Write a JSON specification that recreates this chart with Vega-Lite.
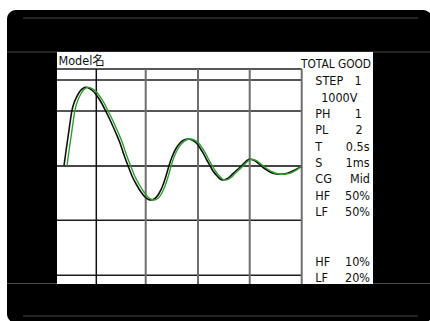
{
  "$schema": "https://vega.github.io/schema/vega-lite/v6.json",
  "width": 316,
  "height": 232,
  "autosize": {"type": "none"},
  "padding": {"left": 57, "top": 52, "right": 57, "bottom": 37},
  "background": "white",
  "config": {"view": {"stroke": null}, "axis": {"disable": true}},
  "datasets": {
    "frame": [{"t1": -50, "t2": 375, "v1": 156, "v2": -157}],
    "panel": [{"t1": 0, "t2": 316, "v1": 114, "v2": -118}],
    "bezel": [
      {"t1": -34, "t2": 361, "v": 148},
      {"t1": -34, "t2": 361, "v": -150},
      {"t1": -50, "t2": 373, "v": 114},
      {"t1": -50, "t2": 373, "v": -117.5}
    ],
    "vlines": [
      {"t": 39.3, "kind": "major"},
      {"t": 88.7, "kind": "minor"},
      {"t": 141, "kind": "minor"},
      {"t": 192.7, "kind": "minor"},
      {"t": 244.7, "kind": "minor"}
    ],
    "hlines": [
      {"v": 97, "kind": "line"},
      {"v": 86, "kind": "line"},
      {"v": 55, "kind": "line"},
      {"v": 0, "kind": "zero"},
      {"v": -54.3, "kind": "line"},
      {"v": -109.3, "kind": "line"}
    ],
    "wave": [
      {"s": "ref", "t": 7, "v": 0.3}, {"s": "ref", "t": 9, "v": 15}, {"s": "ref", "t": 11, "v": 29}, {"s": "ref", "t": 13, "v": 43},
      {"s": "ref", "t": 14.7, "v": 54.3}, {"s": "ref", "t": 17, "v": 63}, {"s": "ref", "t": 19, "v": 67.7}, {"s": "ref", "t": 21.5, "v": 72.5},
      {"s": "ref", "t": 24, "v": 76}, {"s": "ref", "t": 26, "v": 77.7}, {"s": "ref", "t": 28.3, "v": 78.7}, {"s": "ref", "t": 30.5, "v": 78.4},
      {"s": "ref", "t": 33, "v": 77.2}, {"s": "ref", "t": 36, "v": 75}, {"s": "ref", "t": 39, "v": 71.5}, {"s": "ref", "t": 44, "v": 64},
      {"s": "ref", "t": 49, "v": 54.3}, {"s": "ref", "t": 54, "v": 44}, {"s": "ref", "t": 59, "v": 32.7}, {"s": "ref", "t": 63, "v": 23},
      {"s": "ref", "t": 67, "v": 11}, {"s": "ref", "t": 71, "v": 0.3}, {"s": "ref", "t": 75, "v": -10}, {"s": "ref", "t": 79.7, "v": -19},
      {"s": "ref", "t": 84, "v": -26}, {"s": "ref", "t": 88, "v": -31}, {"s": "ref", "t": 91, "v": -33.2}, {"s": "ref", "t": 94, "v": -34},
      {"s": "ref", "t": 98, "v": -32.5}, {"s": "ref", "t": 102, "v": -27.5}, {"s": "ref", "t": 106, "v": -19}, {"s": "ref", "t": 109, "v": -10},
      {"s": "ref", "t": 112, "v": 0.3}, {"s": "ref", "t": 115, "v": 9}, {"s": "ref", "t": 119, "v": 17.5}, {"s": "ref", "t": 123, "v": 23},
      {"s": "ref", "t": 127, "v": 26}, {"s": "ref", "t": 131.3, "v": 27}, {"s": "ref", "t": 135, "v": 26}, {"s": "ref", "t": 139.7, "v": 22.7},
      {"s": "ref", "t": 143, "v": 18}, {"s": "ref", "t": 146.3, "v": 12.7}, {"s": "ref", "t": 149.5, "v": 6.5}, {"s": "ref", "t": 153, "v": 0.3},
      {"s": "ref", "t": 156, "v": -5}, {"s": "ref", "t": 159.7, "v": -9.5}, {"s": "ref", "t": 162.5, "v": -12.5}, {"s": "ref", "t": 165.7, "v": -14},
      {"s": "ref", "t": 169, "v": -13.3}, {"s": "ref", "t": 172.5, "v": -11}, {"s": "ref", "t": 176.3, "v": -7.3}, {"s": "ref", "t": 180.5, "v": -3.5},
      {"s": "ref", "t": 184.7, "v": 0.3}, {"s": "ref", "t": 187.5, "v": 3.2}, {"s": "ref", "t": 190, "v": 5.5}, {"s": "ref", "t": 193, "v": 6.7},
      {"s": "ref", "t": 196.3, "v": 6}, {"s": "ref", "t": 199, "v": 4.5}, {"s": "ref", "t": 202, "v": 2}, {"s": "ref", "t": 205, "v": -0.5},
      {"s": "ref", "t": 209, "v": -3.5}, {"s": "ref", "t": 213, "v": -6}, {"s": "ref", "t": 218, "v": -7.8}, {"s": "ref", "t": 223, "v": -8.3},
      {"s": "ref", "t": 228, "v": -7.8}, {"s": "ref", "t": 233, "v": -6.3}, {"s": "ref", "t": 238, "v": -4}, {"s": "ref", "t": 244.7, "v": -0.2},
      {"s": "live", "t": 10, "v": 0.3}, {"s": "live", "t": 12, "v": 15}, {"s": "live", "t": 14, "v": 29}, {"s": "live", "t": 16, "v": 43},
      {"s": "live", "t": 17.7, "v": 54.3}, {"s": "live", "t": 19.8, "v": 63}, {"s": "live", "t": 21.7, "v": 67.7}, {"s": "live", "t": 24.1, "v": 72.5},
      {"s": "live", "t": 26.5, "v": 76}, {"s": "live", "t": 28.5, "v": 77.7}, {"s": "live", "t": 30.7, "v": 78.7}, {"s": "live", "t": 32.9, "v": 78.4},
      {"s": "live", "t": 35.4, "v": 77.2}, {"s": "live", "t": 38.4, "v": 75}, {"s": "live", "t": 41.5, "v": 71.5}, {"s": "live", "t": 46.5, "v": 64},
      {"s": "live", "t": 51.5, "v": 54.3}, {"s": "live", "t": 56.5, "v": 44}, {"s": "live", "t": 61.5, "v": 32.7}, {"s": "live", "t": 65.5, "v": 23},
      {"s": "live", "t": 69.5, "v": 11}, {"s": "live", "t": 73.6, "v": 0.3}, {"s": "live", "t": 77.7, "v": -10}, {"s": "live", "t": 82.5, "v": -19},
      {"s": "live", "t": 86.9, "v": -26}, {"s": "live", "t": 90.9, "v": -31}, {"s": "live", "t": 94, "v": -33.2}, {"s": "live", "t": 97, "v": -34},
      {"s": "live", "t": 100.8, "v": -32.5}, {"s": "live", "t": 104.6, "v": -27.5}, {"s": "live", "t": 108.4, "v": -19}, {"s": "live", "t": 111.3, "v": -10},
      {"s": "live", "t": 114.2, "v": 0.3}, {"s": "live", "t": 117.1, "v": 9}, {"s": "live", "t": 121.1, "v": 17.5}, {"s": "live", "t": 125.1, "v": 23},
      {"s": "live", "t": 129.1, "v": 26}, {"s": "live", "t": 133.3, "v": 27}, {"s": "live", "t": 137, "v": 26}, {"s": "live", "t": 141.8, "v": 22.7},
      {"s": "live", "t": 145.2, "v": 18}, {"s": "live", "t": 148.5, "v": 12.7}, {"s": "live", "t": 151.7, "v": 6.5}, {"s": "live", "t": 155.3, "v": 0.3},
      {"s": "live", "t": 158.3, "v": -5}, {"s": "live", "t": 162, "v": -9.5}, {"s": "live", "t": 164.8, "v": -12.5}, {"s": "live", "t": 168, "v": -14},
      {"s": "live", "t": 171.2, "v": -13.3}, {"s": "live", "t": 174.6, "v": -11}, {"s": "live", "t": 178.3, "v": -7.3}, {"s": "live", "t": 182.4, "v": -3.5},
      {"s": "live", "t": 186.5, "v": 0.3}, {"s": "live", "t": 189.2, "v": 3.2}, {"s": "live", "t": 191.7, "v": 5.5}, {"s": "live", "t": 194.7, "v": 6.7},
      {"s": "live", "t": 198, "v": 6}, {"s": "live", "t": 200.8, "v": 4.5}, {"s": "live", "t": 203.9, "v": 2}, {"s": "live", "t": 207, "v": -0.5},
      {"s": "live", "t": 211.2, "v": -3.5}, {"s": "live", "t": 215.5, "v": -6}, {"s": "live", "t": 220.7, "v": -7.8}, {"s": "live", "t": 226, "v": -8.3},
      {"s": "live", "t": 230.5, "v": -7.8}, {"s": "live", "t": 235, "v": -6.3}, {"s": "live", "t": 239.5, "v": -4}, {"s": "live", "t": 244.7, "v": 0.3}
    ],
    "labels": [
      {"txt": "Model名", "t": 1.5, "v": 101},
      {"txt": "STEP", "t": 258.3, "v": 81},
      {"txt": "PH", "t": 258.3, "v": 47.7},
      {"txt": "PL", "t": 258.3, "v": 32},
      {"txt": "T", "t": 258.3, "v": 15.3},
      {"txt": "S", "t": 258.3, "v": -1},
      {"txt": "CG", "t": 258.3, "v": -17.3},
      {"txt": "HF", "t": 258.3, "v": -34},
      {"txt": "LF", "t": 258.3, "v": -50},
      {"txt": "HF", "t": 258.3, "v": -99.7},
      {"txt": "LF", "t": 258.3, "v": -115.7}
    ],
    "values": [
      {"txt": "1", "t": 304.7, "v": 81},
      {"txt": "1", "t": 305, "v": 47.7},
      {"txt": "2", "t": 305.7, "v": 32},
      {"txt": "0.5s", "t": 312.5, "v": 15.3},
      {"txt": "1ms", "t": 312.5, "v": -1},
      {"txt": "Mid", "t": 313, "v": -17.3},
      {"txt": "50%", "t": 313, "v": -34},
      {"txt": "50%", "t": 313, "v": -50},
      {"txt": "10%", "t": 313, "v": -99.7},
      {"txt": "20%", "t": 313, "v": -115.7}
    ],
    "titles": [
      {"txt": "1000V", "t": 282.3, "v": 64.3}
    ],
    "status": [
      {"txt": "TOTAL GOOD", "t": 279, "v": 97.7}
    ]
  },
  "layer": [
    {
      "data": {"name": "frame"},
      "mark": {"type": "rect", "color": "black", "cornerRadius": 9},
      "encoding": {
        "x": {"field": "t1", "type": "quantitative", "scale": {"domain": [0, 316], "nice": false, "zero": false}, "axis": null},
        "x2": {"field": "t2"},
        "y": {"field": "v1", "type": "quantitative", "scale": {"domain": [-118, 114], "nice": false, "zero": false}, "axis": null},
        "y2": {"field": "v2"}
      }
    },
    {
      "data": {"name": "bezel"},
      "mark": {"type": "rule", "color": "#4a4a4a", "strokeWidth": 1},
      "encoding": {
        "x": {"field": "t1", "type": "quantitative"},
        "x2": {"field": "t2"},
        "y": {"field": "v", "type": "quantitative"}
      }
    },
    {
      "data": {"name": "panel"},
      "mark": {"type": "rect", "color": "white"},
      "encoding": {
        "x": {"field": "t1", "type": "quantitative"},
        "x2": {"field": "t2"},
        "y": {"field": "v1", "type": "quantitative"},
        "y2": {"field": "v2"}
      }
    },
    {
      "data": {"name": "hlines"},
      "transform": [{"filter": "datum.kind == 'line'"}],
      "mark": {"type": "rule", "color": "#1e1e1e", "strokeWidth": 1.5},
      "encoding": {
        "y": {"field": "v", "type": "quantitative"},
        "x": {"datum": 0, "type": "quantitative"},
        "x2": {"datum": 244.7}
      }
    },
    {
      "data": {"name": "hlines"},
      "transform": [{"filter": "datum.kind == 'zero'"}],
      "mark": {"type": "rule", "color": "#454545", "strokeWidth": 2},
      "encoding": {
        "y": {"field": "v", "type": "quantitative"},
        "x": {"datum": 0, "type": "quantitative"},
        "x2": {"datum": 244.7}
      }
    },
    {
      "data": {"name": "vlines"},
      "transform": [{"filter": "datum.kind == 'major'"}],
      "mark": {"type": "rule", "color": "#111111", "strokeWidth": 1.5},
      "encoding": {
        "x": {"field": "t", "type": "quantitative"},
        "y": {"datum": 97, "type": "quantitative"},
        "y2": {"datum": -118}
      }
    },
    {
      "data": {"name": "vlines"},
      "transform": [{"filter": "datum.kind == 'minor'"}],
      "mark": {"type": "rule", "color": "#6e6e6e", "strokeWidth": 2},
      "encoding": {
        "x": {"field": "t", "type": "quantitative"},
        "y": {"datum": 97, "type": "quantitative"},
        "y2": {"datum": -118}
      }
    },
    {
      "data": {"name": "wave"},
      "transform": [{"filter": "datum.s == 'ref'"}],
      "mark": {"type": "line", "color": "#111111", "strokeWidth": 1.6, "interpolate": "monotone"},
      "encoding": {
        "x": {"field": "t", "type": "quantitative"},
        "y": {"field": "v", "type": "quantitative"}
      }
    },
    {
      "data": {"name": "wave"},
      "transform": [{"filter": "datum.s == 'live'"}],
      "mark": {"type": "line", "color": "#2f9e2f", "strokeWidth": 1.4, "interpolate": "monotone"},
      "encoding": {
        "x": {"field": "t", "type": "quantitative"},
        "y": {"field": "v", "type": "quantitative"}
      }
    },
    {
      "data": {"name": "labels"},
      "mark": {"type": "text", "align": "left", "baseline": "alphabetic", "font": "DejaVu Sans Condensed, DejaVu Sans, Noto Sans CJK JP, sans-serif", "fontSize": 12.5, "color": "#111111"},
      "encoding": {
        "x": {"field": "t", "type": "quantitative"},
        "y": {"field": "v", "type": "quantitative"},
        "text": {"field": "txt"}
      }
    },
    {
      "data": {"name": "values"},
      "mark": {"type": "text", "align": "right", "baseline": "alphabetic", "font": "DejaVu Sans Condensed, DejaVu Sans, Noto Sans CJK JP, sans-serif", "fontSize": 12.5, "color": "#111111"},
      "encoding": {
        "x": {"field": "t", "type": "quantitative"},
        "y": {"field": "v", "type": "quantitative"},
        "text": {"field": "txt"}
      }
    },
    {
      "data": {"name": "titles"},
      "mark": {"type": "text", "align": "center", "baseline": "alphabetic", "font": "DejaVu Sans Condensed, DejaVu Sans, Noto Sans CJK JP, sans-serif", "fontSize": 12.5, "color": "#111111"},
      "encoding": {
        "x": {"field": "t", "type": "quantitative"},
        "y": {"field": "v", "type": "quantitative"},
        "text": {"field": "txt"}
      }
    },
    {
      "data": {"name": "status"},
      "mark": {"type": "text", "align": "center", "baseline": "alphabetic", "font": "DejaVu Sans Condensed, DejaVu Sans, Noto Sans CJK JP, sans-serif", "fontSize": 11.8, "color": "#111111"},
      "encoding": {
        "x": {"field": "t", "type": "quantitative"},
        "y": {"field": "v", "type": "quantitative"},
        "text": {"field": "txt"}
      }
    }
  ]
}
